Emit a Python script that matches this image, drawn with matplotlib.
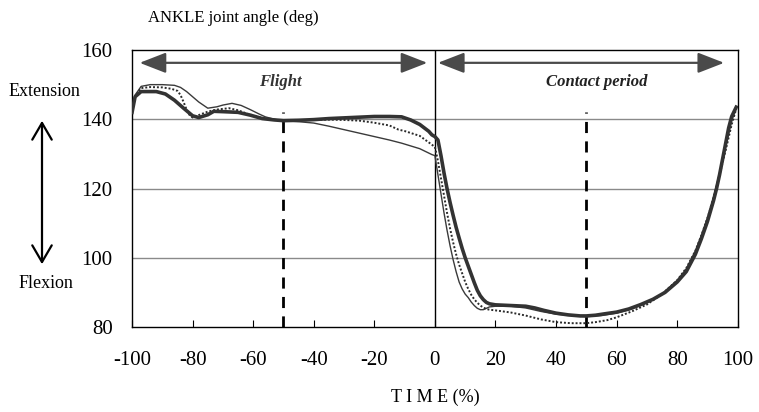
import numpy as np
import matplotlib
matplotlib.use("Agg")
import matplotlib.pyplot as plt

plt.rcParams['font.family'] = ['Liberation Serif', 'DejaVu Serif']
plt.rcParams['axes.unicode_minus'] = False

# --- data (time in %, ankle angle in deg) ---
time_thick = [-100, -99, -97, -92, -89, -86, -83, -80, -78, -75, -73, -70, -65, -61, -57, -53, -50,
              -45, -40, -35, -30, -25, -20, -15, -11, -8, -5, -2, -1, 0, 1, 2, 3, 4, 5, 6, 7, 8,
              9, 10, 11, 12, 13, 14, 15, 16, 17, 18, 20, 25, 30, 33, 36, 40, 44, 48, 50, 53, 56,
              60, 64, 68, 72, 76, 80, 83, 86, 88, 90, 92, 93, 94, 95, 96, 97, 98, 99.5]
angle_thick = [142, 146.5, 148, 148, 147.3, 145.5, 143.2, 141.0, 140.5, 141.3, 142.3, 142.2, 142.0,
               141.2, 140.2, 139.8, 139.6, 139.7, 139.9, 140.2, 140.4, 140.6, 140.8, 140.8, 140.7,
               139.8, 138.5, 136.5, 135.5, 135.0, 134.0, 129.5, 124.5, 120, 116, 112.3, 108.8,
               105.7, 102.7, 100, 97.6, 95.2, 92.8, 90.6, 89.0, 87.9, 87.1, 86.7, 86.4, 86.2, 86.0,
               85.5, 84.8, 84.0, 83.5, 83.2, 83.2, 83.4, 83.8, 84.3, 85.2, 86.5, 88.0, 90.0, 93.0,
               96.0, 101.0, 105.5, 110.5, 116.5, 120, 124, 128.5, 133, 137.5, 140.8, 143.5]

time_thin = [-100, -99, -97, -94, -90, -86, -84, -82, -80, -78, -75, -72, -70, -67, -64, -61, -58,
             -56, -53, -50, -45, -40, -35, -30, -25, -20, -15, -11, -5, -1, 0, 1, 2, 3, 4, 5, 6,
             7, 8, 9, 10, 11, 12, 13, 14, 15, 16, 17, 18, 20, 25, 30, 35, 40, 45, 50, 55, 60, 65,
             70, 75, 80, 83, 86, 88, 90, 92, 94, 96, 98, 99.5]
angle_thin = [143, 147, 149.5, 150, 150, 149.8, 149.2, 148.0, 146.5, 145.0, 143.2, 143.6, 144.1,
              144.6, 144.0, 142.8, 141.5, 140.7, 140.0, 139.6, 139.3, 138.9, 138.0, 137.0, 136.0,
              135.0, 134.0, 133.1, 131.5, 129.8, 129.5, 124, 118.5, 113, 108, 103.5, 99.5, 96,
              93, 91, 89.5, 88.5, 87.2, 86.2, 85.4, 85.0, 85.0, 85.4, 85.8, 86.0, 86.0, 85.5,
              84.5, 83.7, 83.3, 83.0, 83.3, 84.0, 85.2, 87.0, 89.5, 93.5, 96.8, 102, 106.5,
              111.5, 117.5, 124.5, 132, 139.5, 143.5]

time_dot = [-100, -99, -97, -94, -90, -87, -85, -84, -83, -82, -81, -80, -78, -75, -72, -68, -65,
            -62, -58, -55, -50, -45, -40, -35, -30, -25, -20, -15, -12, -10, -5, -2, 0, 1, 2, 3,
            4, 5, 6, 7, 8, 9, 10, 11, 12, 13, 14, 15, 16, 17, 18, 20, 25, 30, 35, 40, 45, 50,
            53, 57, 60, 65, 70, 75, 80, 83, 86, 88, 90, 92, 94, 96, 98, 99.5]
angle_dot = [143, 146.5, 149, 149.3, 149.2, 148.8, 148.2, 147, 145, 142.8, 141.2, 140.5, 141.2,
             142.2, 142.8, 143.2, 142.6, 141.6, 140.6, 140.0, 139.6, 139.7, 139.8, 139.9, 139.8,
             139.6, 139.0, 138.2, 137.0, 136.6, 135.2, 133.3, 132.0, 128, 123, 118, 113, 108.5,
             104.5, 101, 98, 95.5, 93, 91, 89.3, 88, 87, 86.2, 85.6, 85.2, 85.0, 84.8, 84.2,
             83.3, 82.2, 81.4, 81.1, 81.1, 81.4, 82.0, 82.8, 84.5, 86.5, 89.5, 93.5, 97, 102,
             106.5, 111.5, 117.5, 124, 131, 138.5, 143]

x_ticks = [-100, -80, -60, -40, -20, 0, 20, 40, 60, 80, 100]
y_ticks = [80, 100, 120, 140, 160]
phase_marks = [-50, 50]
mark_top = 142
flight_span = (-97.5, -2.5)
contact_span = (1.0, 95.5)
arrow_level = 156.3

fig = plt.figure(figsize=(7.59, 4.12), dpi=100)
ax = fig.add_axes([0.174, 0.2063, 0.798, 0.6723])

# grid + reference lines
for yv in y_ticks[1:-1]:
    ax.axhline(yv, color='#8a8a8a', lw=1.0, zorder=1)
ax.axvline(0, color='black', lw=1.0, zorder=2)
ax.vlines(phase_marks, 80, mark_top, colors='black', lw=2.0, linestyles=(0, (4, 3)), zorder=2)

# curves
ax.plot(time_thin, angle_thin, color='#3a3a3a', lw=1.0, zorder=3)
ax.plot(time_dot, angle_dot, color='#2a2a2a', lw=1.4, ls=(0, (1, 1)), zorder=3)
ax.plot(time_thick, angle_thick, color='#333333', lw=2.6, zorder=4)

# phase arrows
arrow_kw = dict(arrowstyle='<|-|>,head_length=0.9,head_width=0.35', color='#4a4a4a',
                lw=1.6, mutation_scale=18, shrinkA=0, shrinkB=0)
ax.annotate('', xy=(flight_span[0], arrow_level), xytext=(flight_span[1], arrow_level),
            arrowprops=arrow_kw)
ax.annotate('', xy=(contact_span[1], arrow_level), xytext=(contact_span[0], arrow_level),
            arrowprops=arrow_kw)
ax.text(-51, 150.8, 'Flight', ha='center', va='center', fontsize=12,
        fontweight='bold', fontstyle='italic', color='#333333')
ax.text(53.5, 150.8, 'Contact period', ha='center', va='center', fontsize=12,
        fontweight='bold', fontstyle='italic', color='#222222')

ax.set_xlim(-100, 100)
ax.set_ylim(80, 160)
ax.set_xticks(x_ticks)
ax.set_yticks(y_ticks)
ax.tick_params(axis='x', direction='in', length=5, labelsize=15, pad=17)
ax.tick_params(axis='y', length=0, labelsize=15, pad=14)
for sp in ax.spines.values():
    sp.set_color('black')
    sp.set_linewidth(1.0)
ax.set_xlabel('T I M E (%)', fontsize=13, labelpad=14)

# outer annotations
fig.text(148 / 759, 1 - 18 / 412, 'ANKLE joint angle (deg)', ha='left', va='center', fontsize=12)
fig.text(44 / 759, 1 - 92 / 412, 'Extension', ha='center', va='center', fontsize=13)
fig.text(46 / 759, 1 - 283 / 412, 'Flexion', ha='center', va='center', fontsize=13)
fig.add_artist(matplotlib.patches.FancyArrowPatch(
    (42 / 759, 1 - 118 / 412), (42 / 759, 1 - 267 / 412), transform=fig.transFigure,
    arrowstyle='<->,head_length=0.6,head_width=0.35', mutation_scale=20, lw=1.6, color='black'))

fig.savefig('out.png', dpi=100)
